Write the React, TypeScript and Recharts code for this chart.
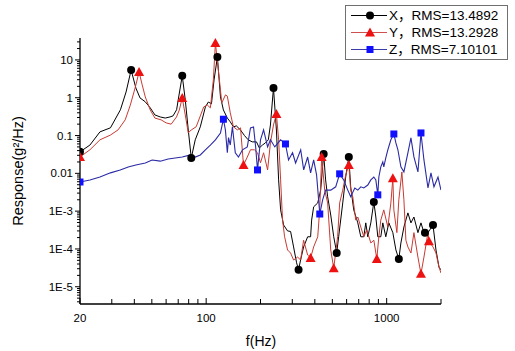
import { LineChart, Line, XAxis, YAxis, Legend, Label } from "recharts";

// [frequency Hz, PSD g^2/Hz, marker?]
type Pt = [number, number, number?];

const xSeries: Pt[] = [
  [20, 0.037, 1], [22.7, 0.056], [25.8, 0.125], [29.5, 0.16], [33.5, 0.48], [36, 1.42],
  [38.4, 5.4, 1], [40.8, 1.8], [43, 0.99], [46, 0.78], [49, 0.54], [52, 0.35], [55.7, 0.31],
  [59.3, 0.29], [63, 0.31], [65.5, 0.33], [68.6, 0.48], [70, 0.88], [73.7, 3.8, 1], [76.6, 0.88],
  [79.6, 0.14], [82.7, 0.0255, 1], [87, 0.077], [92.8, 0.17], [99, 0.57], [102.8, 0.77], [107, 0.69],
  [110.6, 2.96], [115.4, 12, 1], [120, 1.05], [124.6, 0.475], [131, 0.29], [136, 0.23], [141.6, 0.17],
  [147, 0.18], [155, 0.14], [163, 0.1], [171, 0.077], [180, 0.068], [190, 0.068], [197, 0.047],
  [205, 0.056], [213, 0.064], [221, 0.077], [227, 0.19], [236, 1.82, 1], [245, 0.14], [252, 0.0067],
  [258.5, 0.00108], [268.6, 0.00043], [282.5, 0.0003], [293.6, 0.00029], [305, 0.000113], [317, 4.3e-5],
  [325, 2.8e-5, 1], [333.6, 5.1e-5], [346.6, 0.000113], [365, 0.00021], [379, 0.00021], [384, 0.00058],
  [394, 0.0013], [415, 0.00165], [431, 0.0036], [447.7, 0.0326, 1], [459, 0.0067], [471, 0.0024],
  [490, 0.00079], [509, 0.00021], [528.6, 7.8e-5, 1], [542, 0.00021], [571, 0.00165], [593, 0.008],
  [617, 0.0272, 1], [632, 0.0044], [657, 0.00108], [692, 0.00049], [719, 0.00021], [747, 0.00021],
  [766, 0.00049], [786, 0.00021], [817, 0.00049], [849, 0.00175, 1], [871, 0.0007], [893, 0.00021],
  [928, 0.00021], [952, 0.00049], [989, 0.00021], [1028, 0.00049], [1082, 0.00027], [1125, 9.4e-5],
  [1168, 5.4e-5, 1], [1199, 0.000144], [1246, 0.00038], [1311, 0.0009], [1363, 0.00049], [1416, 0.0007],
  [1490, 0.00027], [1549, 0.00049], [1609, 0.00027], [1630, 0.00027, 1], [1694, 0.00027],
  [1806, 0.00043, 1], [1876, 9.4e-5], [1950, 3.3e-5], [2000, 2.8e-5],
];

const ySeries: Pt[] = [
  [20, 0.027, 1], [22.7, 0.042], [25.8, 0.077], [29.5, 0.103], [32.5, 0.141], [35.6, 0.26], [38, 0.64],
  [40.4, 1.82], [42.5, 4.8, 1], [44.2, 2.2], [46, 1.05], [49, 0.475], [52, 0.29], [56.3, 0.26],
  [60, 0.216], [64, 0.2], [68.5, 0.31], [71, 0.475], [73.7, 0.99, 1], [76.6, 0.35], [79.6, 0.117],
  [82.7, 0.141], [88, 0.17], [92.8, 0.33], [96.9, 0.57], [101.5, 0.64], [105.5, 0.54], [109.6, 2.96],
  [112.5, 28, 1], [116.8, 5.4], [120, 1.61], [122, 0.73], [128, 1.19], [131, 1.1], [136, 0.4],
  [141.6, 0.17], [149, 0.141], [155, 0.16], [161, 0.0167, 1], [169, 0.027], [176, 0.042], [185, 0.042],
  [192.5, 0.035], [200, 0.019], [208, 0.035], [219, 0.0123], [227, 0.064], [236, 0.19], [245, 0.37, 1],
  [252, 0.077], [258.5, 0.0067], [265, 0.00058], [272, 0.00021], [282.5, 9.4e-5], [293.6, 7.8e-5],
  [305, 5.1e-5], [321, 6.1e-5], [333.6, 5.1e-5], [346.6, 0.00017], [365, 6.9e-5], [379, 5.8e-5, 1],
  [394, 0.000113], [415, 0.00021], [425.6, 0.00108], [436.4, 0.027, 1], [453.6, 0.0036], [471, 0.00165],
  [490, 9.4e-5], [509, 3.1e-5, 1], [535, 0.00021], [549, 0.00165], [571, 0.0036], [593, 0.0091],
  [617, 0.0167, 1], [632, 0.0036], [649, 0.0024], [674, 0.00058], [692, 0.0007], [719, 0.00038],
  [747, 0.00021], [776, 0.00032], [817, 0.000144], [849, 0.00017], [882, 5.4e-5, 1], [905, 0.00021],
  [928, 0.00058], [964, 0.00108], [1015, 0.00038], [1055, 0.00165], [1082, 0.0074, 1], [1096, 0.00108],
  [1139, 0.00027], [1168, 0.002], [1214, 0.0109], [1246, 0.002], [1278, 0.00017], [1311, 0.000113],
  [1363, 7.8e-5], [1416, 0.00027], [1490, 6.1e-5], [1549, 2.2e-5, 1], [1609, 6.1e-5], [1694, 0.00027],
  [1714, 0.00016, 1], [1806, 0.000113], [1876, 7.8e-5], [1950, 3.3e-5], [2000, 2.3e-5],
];

const zSeries: Pt[] = [
  [20, 0.0059, 1], [22.7, 0.0067], [25.8, 0.008], [29.5, 0.0103], [33.4, 0.0123], [37, 0.0148],
  [40.8, 0.0167], [46, 0.0188], [50.2, 0.0226], [55.7, 0.021], [61.6, 0.024], [67.4, 0.0255],
  [73.7, 0.027], [81.7, 0.0307], [87, 0.027], [92.8, 0.0307], [99, 0.042], [105.5, 0.056], [112.5, 0.077],
  [120, 0.117], [124.6, 0.27, 1], [127.8, 0.141], [131, 0.035], [133, 0.088], [136, 0.056], [139.8, 0.169],
  [145, 0.035], [151, 0.027], [159, 0.042], [169, 0.05], [176, 0.159], [183, 0.169], [188, 0.05],
  [192.5, 0.0123, 1], [200, 0.077], [208, 0.141], [219, 0.05], [227, 0.077], [240, 0.05], [258.5, 0.077],
  [275, 0.06, 1], [286, 0.0226], [301, 0.035], [313, 0.0188], [334, 0.042], [347, 0.0123], [365, 0.027],
  [379, 0.0103], [394, 0.0226], [409, 0.0091], [426, 0.00084, 1], [442, 0.002], [459, 0.0036],
  [490, 0.0036], [522, 0.0044], [549, 0.0097, 1], [578, 0.0067], [609, 0.0036], [632, 0.0024],
  [666, 0.0041], [692, 0.0036], [719, 0.0044], [747, 0.0041], [786, 0.0049], [817, 0.0067], [849, 0.008],
  [871, 0.0067], [893, 0.0027, 1], [905, 0.008], [928, 0.0148], [952, 0.02], [964, 0.0148], [989, 0.0255],
  [1015, 0.042], [1055, 0.077], [1096, 0.11, 1], [1125, 0.0637], [1154, 0.042], [1199, 0.0148],
  [1246, 0.0109], [1311, 0.0347], [1363, 0.0865], [1416, 0.0272], [1490, 0.0109], [1549, 0.117, 1],
  [1609, 0.0226], [1694, 0.0041], [1760, 0.0103], [1828, 0.0044], [1925, 0.008], [2000, 0.0036],
];

const seriesNames = ["X，RMS=13.4892", "Y，RMS=13.2928", "Z，RMS=7.10101"];

const xMajor = [20, 100, 1000];
const xMajorLabels = ["20", "100", "1000"];
const xMinor = [30, 40, 50, 60, 70, 80, 90, 200, 300, 400, 500, 600, 700, 800, 900, 2000];

const yMajor = [1e-5, 1e-4, 1e-3, 0.01, 0.1, 1, 10];
const yMajorLabels = ["1E-5", "1E-4", "1E-3", "0.01", "0.1", "1", "10"];

const X_DOMAIN = [20, 2000];
const Y_DOMAIN = [3.5e-6, 38];

const FONT = "Arial, 'Liberation Sans', 'Noto Sans CJK SC', sans-serif";

const yMinor: number[] = [];
for (let d = -6; d <= 1; d++) {
  for (let k = 2; k <= 9; k++) {
    const v = k * Math.pow(10, d);
    if (v >= Y_DOMAIN[0] && v <= Y_DOMAIN[1]) yMinor.push(v);
  }
}

const toRows = (s: Pt[]) => s.map(([f, v, m]) => ({ f, v, m: !!m }));
const xData = toRows(xSeries);
const yData = toRows(ySeries);
const zData = toRows(zSeries);

type Kind = "circle" | "triangle" | "square";

function Marker({ kind, cx, cy }: { kind: Kind; cx: number; cy: number }) {
  if (kind === "circle") return <circle cx={cx} cy={cy} r={4} fill="#000" />;
  if (kind === "triangle")
    return <polygon points={`${cx},${cy - 5} ${cx + 5},${cy + 4} ${cx - 5},${cy + 4}`} fill="#ee1111" />;
  return <rect x={cx - 3.5} y={cy - 3.5} width={7} height={7} fill="#1010ff" />;
}

const dotFor = (kind: Kind) => (props: any) => {
  const { cx, cy, payload, index } = props;
  if (!payload || !payload.m || cx == null || cy == null) return <g key={`e-${kind}-${index}`} />;
  return (
    <g key={`d-${kind}-${index}`}>
      <Marker kind={kind} cx={cx} cy={cy} />
    </g>
  );
};

const XTick = (props: any) => {
  const { x, y, payload } = props;
  const i = xMajor.indexOf(payload.value);
  const axisY = y - 8;
  return (
    <g>
      <line x1={x} x2={x} y1={axisY} y2={axisY - (i >= 0 ? 6 : 5)} stroke="#000" strokeWidth={1} />
      {i >= 0 && (
        <text x={x} y={axisY + 14} textAnchor="middle" dominantBaseline="central" fontSize={11.5} fontFamily={FONT} fill="#000">
          {xMajorLabels[i]}
        </text>
      )}
    </g>
  );
};

const YTick = (props: any) => {
  const { x, y, payload } = props;
  const i = yMajor.indexOf(payload.value);
  const axisX = x + 8;
  return (
    <g>
      <line x1={axisX} x2={axisX - (i >= 0 ? 5 : 3)} y1={y} y2={y} stroke="#000" strokeWidth={1} />
      {i >= 0 && (
        <text x={axisX - 7} y={y} textAnchor="end" dominantBaseline="central" fontSize={11.5} fontFamily={FONT} fill="#000">
          {yMajorLabels[i]}
        </text>
      )}
    </g>
  );
};

const legendRows: { kind: Kind; line: string }[] = [
  { kind: "circle", line: "#000" },
  { kind: "triangle", line: "#d05050" },
  { kind: "square", line: "#3a3aa8" },
];

const LegendBox = () => (
  <div
    style={{
      border: "1px solid #707070",
      background: "#fff",
      padding: "1px 5px 1px 5px",
      fontFamily: FONT,
      fontSize: 13.5,
      color: "#000",
      lineHeight: "17px",
      width: 151,
    }}
  >
    {legendRows.map((r, i) => (
      <div key={i} style={{ display: "flex", alignItems: "center", height: 17 }}>
        <svg width={38} height={17} style={{ flex: "none" }}>
          <line x1={0} x2={36} y1={8.5} y2={8.5} stroke={r.line} strokeWidth={1.2} />
          <Marker kind={r.kind} cx={19} cy={8.5} />
        </svg>
        <span style={{ whiteSpace: "nowrap" }}>{seriesNames[i]}</span>
      </div>
    ))}
  </div>
);

export default function App() {
  return (
    <div style={{ position: "absolute", left: 0, top: 0, width: 515, height: 351, background: "#fff" }}>
      <LineChart width={515} height={351} margin={{ top: 38, right: 74, bottom: 0, left: 0 }}>
        <XAxis
          dataKey="f"
          type="number"
          scale="log"
          domain={X_DOMAIN}
          allowDataOverflow
          ticks={[...xMajor, ...xMinor]}
          interval={0}
          height={47}
          tickSize={6}
          tickMargin={2}
          tickLine={false}
          tick={<XTick />}
          axisLine={{ stroke: "#000", strokeWidth: 1.3 }}
        >
          <Label
            content={() => (
              <text x={261} y={341} textAnchor="middle" dominantBaseline="central" fontSize={14} fontFamily={FONT} fill="#000">
                f(Hz)
              </text>
            )}
          />
        </XAxis>
        <YAxis
          type="number"
          scale="log"
          domain={Y_DOMAIN}
          allowDataOverflow
          ticks={[...yMajor, ...yMinor]}
          interval={0}
          width={80}
          tickSize={6}
          tickMargin={2}
          tickLine={false}
          tick={<YTick />}
          axisLine={{ stroke: "#000", strokeWidth: 1.3 }}
        >
          <Label
            content={() => (
              <text x={18} y={171} transform="rotate(-90, 18, 171)" textAnchor="middle" dominantBaseline="central" fontSize={14.5} fontFamily={FONT} fill="#000">
                Response(g²/Hz)
              </text>
            )}
          />
        </YAxis>
        <Legend
          layout="vertical"
          align="center"
          verticalAlign="middle"
          content={() => <LegendBox />}
          wrapperStyle={{ position: "absolute", left: 345, top: 5, width: 163, height: 55 }}
        />
        <Line data={xData} dataKey="v" name="X" type="linear" stroke="#000" strokeWidth={1} dot={dotFor("circle")} activeDot={false} isAnimationActive={false} />
        <Line data={yData} dataKey="v" name="Y" type="linear" stroke="#c83a32" strokeWidth={1} dot={dotFor("triangle")} activeDot={false} isAnimationActive={false} />
        <Line data={zData} dataKey="v" name="Z" type="linear" stroke="#2a2aa6" strokeWidth={1.1} dot={dotFor("square")} activeDot={false} isAnimationActive={false} />
      </LineChart>
    </div>
  );
}
